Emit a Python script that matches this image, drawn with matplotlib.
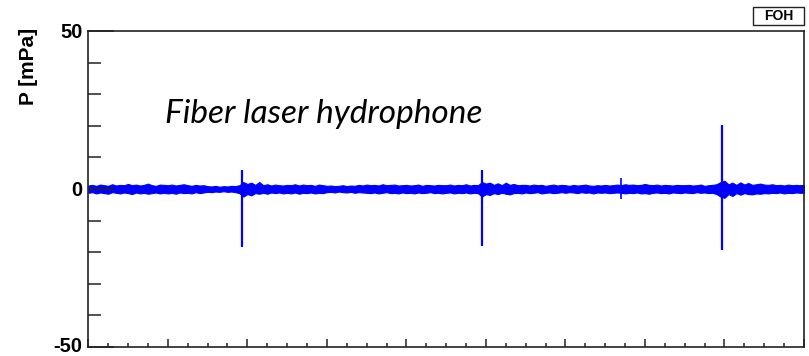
import numpy as np
import matplotlib
matplotlib.use("Agg")
import matplotlib.pyplot as plt
import matplotlib.transforms as mtransforms
from matplotlib.patches import Rectangle
from matplotlib.ticker import MultipleLocator

# Envelope of the recorded pressure trace, sampled every 0.05 time units (mPa)
t_step = 0.05
noise_hi = [
    1.1, 1.3, 1.0, 1.4, 1.2, 1.0, 1.5, 1.1, 1.3, 1.2,
    1.6, 1.2, 1.4, 1.1, 1.3, 1.7, 1.2, 1.0, 1.4, 1.3,
    1.2, 1.4, 1.1, 1.3, 1.5, 1.2, 1.0, 1.3, 1.1, 1.2,
    0.9, 0.8, 1.0, 0.7, 0.9, 0.8, 1.0, 0.9,
    1.2, 2.2, 1.6, 2.0, 1.3, 2.2, 1.2, 1.5, 1.1, 1.4, 1.2, 1.1,
    1.3, 1.2, 1.5, 1.1, 1.4, 1.2, 1.3, 1.0, 1.4, 1.2,
    1.0, 1.1, 0.9, 1.0, 1.2, 0.9, 1.1, 1.0, 1.3, 1.1,
    1.4, 1.2, 1.3, 1.1, 1.5, 1.2, 1.3, 1.4, 1.1, 1.2,
    1.3, 1.1, 1.2, 1.4, 1.0, 1.3, 1.2, 1.1, 1.3, 1.2,
    1.2, 1.4, 1.1, 1.3, 1.2, 1.5, 1.1, 1.3, 1.2,
    2.2, 1.7, 2.0, 1.3, 1.8, 1.2, 2.0, 1.3, 1.6, 1.2, 1.3,
    1.3, 1.1, 1.4, 1.2, 1.3, 1.0, 1.2, 1.4, 1.1, 1.3,
    1.2, 1.0, 1.3, 1.1, 1.2, 1.4, 1.1, 1.0, 1.2, 1.1,
    1.3, 1.1, 1.2, 1.4, 1.2, 1.5, 1.3, 1.4, 1.2, 1.3,
    1.6, 1.3, 1.2, 1.4, 1.1, 1.3, 1.2, 1.1, 1.3, 1.2,
    1.2, 1.3, 1.1, 1.2, 1.4, 1.0, 1.2, 1.3, 1.5,
    2.2, 2.6, 1.5, 2.0, 1.3, 2.1, 1.4, 1.9, 1.3, 1.5, 1.7,
    1.4, 1.3, 1.5, 1.2, 1.3, 1.1, 1.4, 1.2, 1.3, 1.2, 1.3,
]
noise_lo = [
    -1.2, -1.0, -1.4, -1.1, -1.3, -1.5, -1.0, -1.2, -1.4, -1.1,
    -1.3, -1.6, -1.1, -1.4, -1.2, -1.5, -1.3, -1.1, -1.4, -1.2,
    -1.4, -1.2, -1.5, -1.1, -1.3, -1.2, -1.4, -1.0, -1.3, -1.1,
    -0.9, -1.0, -0.8, -0.9, -0.7, -0.9, -0.8, -1.0,
    -1.3, -2.4, -1.6, -2.0, -1.3, -1.5, -1.2, -1.5, -1.1, -1.3, -1.1, -1.4,
    -1.2, -1.4, -1.1, -1.5, -1.2, -1.3, -1.1, -1.4, -1.2, -1.3,
    -1.0, -0.9, -1.1, -0.8, -1.0, -1.1, -0.9, -1.2, -1.0, -1.1,
    -1.2, -1.3, -1.1, -1.4, -1.2, -1.0, -1.3, -1.2, -1.4, -1.1,
    -1.3, -1.2, -1.4, -1.1, -1.3, -1.2, -1.0, -1.3, -1.2, -1.4,
    -1.2, -1.1, -1.4, -1.2, -1.3, -1.1, -1.4, -1.2, -1.3,
    -2.4, -1.6, -1.9, -1.3, -1.6, -1.2, -1.5, -1.7, -1.3, -1.2, -1.4,
    -1.1, -1.3, -1.2, -1.0, -1.4, -1.2, -1.1, -1.3, -1.2, -1.0,
    -1.2, -1.0, -1.1, -1.3, -1.0, -1.2, -1.1, -1.4, -1.1, -1.2,
    -1.1, -1.3, -1.2, -1.1, -1.2, -1.4, -1.2, -1.3, -1.1, -1.4,
    -1.3, -1.5, -1.2, -1.1, -1.3, -1.2, -1.4, -1.1, -1.2, -1.3,
    -1.1, -1.2, -1.3, -1.0, -1.2, -1.1, -1.3, -1.2, -1.6,
    -2.4, -2.8, -1.6, -2.2, -1.3, -1.8, -1.3, -1.6, -1.7, -1.4, -1.5,
    -1.3, -1.4, -1.2, -1.3, -1.1, -1.4, -1.2, -1.3, -1.1, -1.2, -1.2,
]

# Acoustic pulses: arrival time, positive peak, negative peak (mPa)
pulse_t = [1.937, 4.952, 7.974]
pulse_max = [6.0, 6.0, 20.3]
pulse_min = [-18.3, -17.9, -19.3]

# Weak isolated transient between the second and third pulse
glitch_t = [6.70]
glitch_max = [3.5]
glitch_min = [-3.2]

y_ticks = [-50, 0, 50]
y_ticklabels = ["-50", "0", "50"]

W, H = 809, 356
fig = plt.figure(figsize=(W / 100, H / 100), dpi=100)
ax = fig.add_axes([88.3 / W, 1 - 347 / H, (804 - 88.3) / W, 316 / H])

blue = "#0000ff"
t = np.arange(len(noise_hi)) * t_step
ax.fill_between(t, noise_lo, noise_hi, color=blue, lw=0.8, edgecolor=blue)
ax.vlines(pulse_t, pulse_min, pulse_max, color=blue, lw=1.6)
ax.vlines(glitch_t, glitch_min, glitch_max, color=blue, lw=1.2)

ax.set_xlim(0, 9)
ax.set_ylim(-50, 50)

ax.xaxis.set_major_locator(MultipleLocator(1))
ax.xaxis.set_minor_locator(MultipleLocator(0.25))
ax.set_yticks(y_ticks)
ax.set_yticklabels(y_ticklabels)
ax.yaxis.set_minor_locator(MultipleLocator(10))

ax.tick_params(axis="x", which="major", direction="in", length=6, width=1.1,
               labelbottom=False, color="#222222")
ax.tick_params(axis="x", which="minor", direction="in", length=3, width=1.1,
               color="#222222")
ax.tick_params(axis="y", which="major", direction="in", length=19, width=1.1,
               pad=4, color="#222222")
ax.tick_params(axis="y", which="minor", direction="in", length=9.5, width=1.1,
               color="#222222")
for lab in ax.get_yticklabels():
    lab.set_fontfamily("Liberation Sans")
    lab.set_fontweight("bold")
    lab.set_fontsize(14.5)
# keep the bottom label inside the canvas
bottom_lab = ax.get_yticklabels()[0]
bottom_lab.set_transform(bottom_lab.get_transform() +
                         mtransforms.ScaledTranslation(0, 2.5 / 100, fig.dpi_scale_trans))

for sp in ax.spines.values():
    sp.set_linewidth(1.2)
    sp.set_color("#222222")

fig.text(28 / W, 1 - 28 / H, "P [mPa]", rotation=90, ha="center", va="top",
         fontsize=15, fontweight="bold", family="Liberation Sans")

ax.text(0.107, 0.709, "Fiber laser hydrophone", transform=ax.transAxes,
        fontsize=24, style="italic", family="Lato", ha="left", va="baseline")

# Pad label box
fig.patches.append(Rectangle((752.7 / W, 1 - 25 / H), 51.3 / W, 18 / H,
                             transform=fig.transFigure, fc="white",
                             ec="#222222", lw=1.0))
fig.text(778.3 / W, 1 - 16 / H, "FOH", ha="center", va="center",
         fontsize=10, fontweight="bold", family="Liberation Sans")

fig.savefig("out.png", dpi=100)
